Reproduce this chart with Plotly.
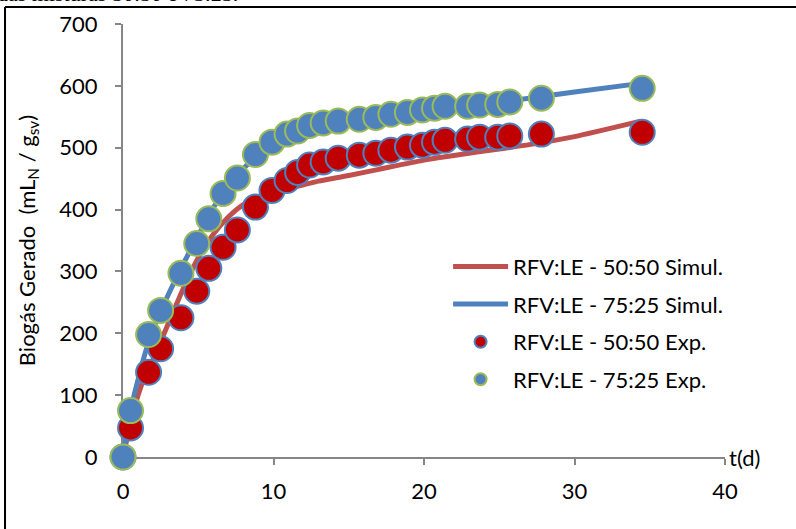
import plotly.graph_objects as go

# Experimental sampling times (d)
t_exp = [0, 0.5, 1.7, 2.5, 3.85, 4.9, 5.7, 6.65, 7.6, 8.8, 9.9, 10.9, 11.6, 12.4, 13.3,
         14.3, 15.7, 16.8, 17.8, 18.9, 19.9, 20.7, 21.4, 22.9, 23.7, 24.9, 25.7, 27.8, 34.5]
exp_5050 = [0, 47, 137, 175, 225, 268, 305, 339, 367, 404, 431, 447, 460, 472, 477,
            483, 488, 491, 496, 501, 504, 509, 512, 514, 517, 517, 519, 522, 525]
exp_7525 = [0, 75, 198, 237, 297, 345, 385, 426, 451, 489, 509, 522, 527, 536, 540,
            543, 546, 549, 554, 557, 561, 564, 567, 567, 569, 570, 574, 580, 596]

# Simulation curves
t_sim = [0, 0.5, 1, 1.5, 2, 3, 4, 5, 6, 7, 8, 9, 10, 11, 12, 13, 15, 17, 20, 25, 27, 30, 34.4]
sim_5050 = [0, 55, 100, 133, 158, 215, 272, 322, 360, 388, 408, 420, 428, 434, 440, 446,
            455, 465, 480, 498, 505, 518, 543]
sim_7525 = [0, 75, 125, 170, 206, 262, 312, 358, 403, 438, 466, 490, 506, 517, 526, 533,
            541, 548, 558, 574, 580, 590, 604]

names = ["RFV:LE - 50:50 Simul.", "RFV:LE - 75:25 Simul.",
         "RFV:LE - 50:50 Exp.", "RFV:LE - 75:25 Exp."]

FONT = "Lato"
FS = 22
RED_LINE = "#C0504D"
BLUE = "#4F81BD"
RED_FILL = "#C00000"
GREEN = "#9BBB59"
AXIS = "#868686"

fig = go.Figure()
fig.add_trace(go.Scatter(x=t_sim, y=sim_5050, mode="lines", name=names[0],
                         line=dict(color=RED_LINE, width=5, shape="spline", smoothing=0.6),
                         legendgroup="a", cliponaxis=False))
fig.add_trace(go.Scatter(x=t_sim, y=sim_7525, mode="lines", name=names[1],
                         line=dict(color=BLUE, width=5, shape="spline", smoothing=0.6),
                         legendgroup="b", cliponaxis=False))
fig.add_trace(go.Scatter(x=t_exp, y=exp_5050, mode="markers", name=names[2],
                         marker=dict(color=RED_FILL, size=25, line=dict(color=BLUE, width=2)),
                         legendgroup="c", cliponaxis=False))
fig.add_trace(go.Scatter(x=t_exp, y=exp_7525, mode="markers", name=names[3],
                         marker=dict(color=BLUE, size=25, line=dict(color=GREEN, width=2)),
                         legendgroup="d", cliponaxis=False))

fig.update_layout(
    width=796, height=529,
    margin=dict(l=123, r=71, t=24, b=72, autoexpand=False),
    paper_bgcolor="white", plot_bgcolor="white",
    font=dict(family=FONT, size=FS, color="black"),
    showlegend=True,
    legend=dict(x=0.54, y=0.309, xanchor="left", yanchor="middle",
                bgcolor="rgba(0,0,0,0)", itemwidth=55, itemsizing="constant",
                tracegroupgap=6, font=dict(family=FONT, size=FS, color="black")),
    xaxis=dict(range=[0, 40], tickvals=[0, 10, 20, 30, 40], showgrid=False, zeroline=False,
               showline=True, linecolor=AXIS, linewidth=2, ticks="outside", ticklen=6,
               tickcolor=AXIS, tickwidth=2, tickfont=dict(family=FONT, size=FS),
               ticklabelstandoff=8, automargin=False, layer="below traces"),
    yaxis=dict(range=[0, 700], tickvals=[0, 100, 200, 300, 400, 500, 600, 700],
               showgrid=False, zeroline=False, showline=True, linecolor=AXIS, linewidth=2,
               ticks="outside", ticklen=6, tickcolor=AXIS, tickwidth=2,
               tickfont=dict(family=FONT, size=FS), ticklabelstandoff=13, automargin=False,
               layer="below traces",
               title=dict(text="Biogás Gerado  (mL<sub>N</sub> / g<sub>sv</sub>)",
                          font=dict(family=FONT, size=FS), standoff=18)),
    annotations=[
        dict(text="t(d)", x=1.0, y=0, xref="paper", yref="paper", xanchor="left",
             yanchor="middle", showarrow=False, xshift=2, font=dict(family=FONT, size=FS)),
        dict(text="das misturas 50:50 e 75:25.", x=0.194, y=1.038, xref="paper", yref="paper",
             xanchor="right", yanchor="bottom", showarrow=False,
             font=dict(family="Liberation Serif", size=22)),
    ],
    shapes=[
        dict(type="line", xref="paper", yref="paper", x0=-0.196, x1=1.12, y0=1.039, y1=1.039,
             line=dict(color="black", width=2)),
        dict(type="line", xref="paper", yref="paper", x0=-0.196, x1=-0.196, y0=1.039, y1=-0.2,
             line=dict(color="black", width=2)),
    ],
)

fig.write_html("out.html", post_script="document.body.style.margin='0';",
               config={"displayModeBar": False})
